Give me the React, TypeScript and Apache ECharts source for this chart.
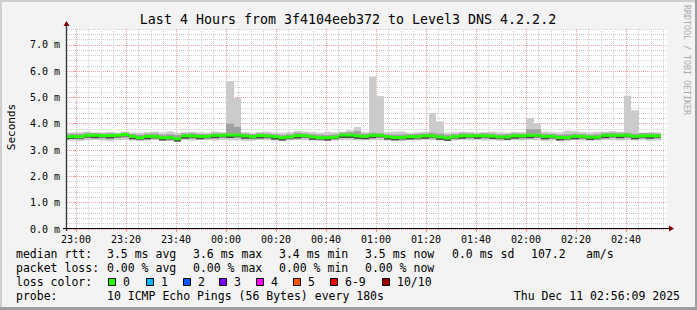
import React, { useEffect, useRef } from 'react';
import * as echarts from 'echarts';

// ---------- data ----------
const TITLE = 'Last 4 Hours from 3f4104eeb372 to Level3 DNS 4.2.2.2';
const STEP = 3; // minutes per RRD step
// step end times, minutes after 23:00
const stepEnd = [
  -3, 0, 3, 6, 9, 12, 15, 18, 21, 24,
  27, 30, 33, 36, 39, 42, 45, 48, 51, 54,
  57, 60, 63, 66, 69, 72, 75, 78, 81, 84,
  87, 90, 93, 96, 99, 102, 105, 108, 111, 114,
  117, 120, 123, 126, 129, 132, 135, 138, 141, 144,
  147, 150, 153, 156, 159, 162, 165, 168, 171, 174,
  177, 180, 183, 186, 189, 192, 195, 198, 201, 204,
  207, 210, 213, 216, 219, 222, 225, 228, 231, 234,
];
// median rtt (ms)
const rttMedian = [
  3.51, 3.51, 3.51, 3.56, 3.56, 3.55, 3.55, 3.56, 3.59, 3.52,
  3.47, 3.52, 3.52, 3.47, 3.47, 3.43, 3.54, 3.54, 3.52, 3.52,
  3.56, 3.56, 3.57, 3.57, 3.54, 3.51, 3.55, 3.54, 3.51, 3.47,
  3.50, 3.55, 3.55, 3.50, 3.47, 3.47, 3.49, 3.57, 3.57, 3.54,
  3.52, 3.56, 3.56, 3.51, 3.48, 3.48, 3.51, 3.51, 3.54, 3.54,
  3.50, 3.46, 3.51, 3.54, 3.54, 3.54, 3.54, 3.53, 3.50, 3.50,
  3.54, 3.54, 3.56, 3.56, 3.52, 3.52, 3.48, 3.48, 3.52, 3.52,
  3.49, 3.49, 3.56, 3.56, 3.56, 3.56, 3.52, 3.54, 3.54, 3.54,
];
// smoke: slowest ping (ms)
const rttMax = [
  3.66, 3.67, 3.68, 3.70, 3.66, 3.67, 3.69, 3.66, 3.70, 3.67,
  3.66, 3.68, 3.70, 3.67, 3.71, 3.66, 3.68, 3.69, 3.67, 3.66,
  3.70, 3.68, 5.62, 4.98, 3.68, 3.66, 3.69, 3.70, 3.67, 3.66,
  3.68, 3.73, 3.70, 3.68, 3.66, 3.69, 3.67, 3.70, 3.75, 3.88,
  3.68, 5.78, 5.05, 3.68, 3.70, 3.70, 3.66, 3.67, 3.69, 4.41,
  4.09, 3.66, 3.68, 3.70, 3.69, 3.67, 3.68, 3.70, 3.67, 3.66,
  3.69, 3.68, 4.22, 4.00, 3.70, 3.68, 3.67, 3.73, 3.72, 3.68,
  3.67, 3.69, 3.70, 3.72, 3.70, 5.06, 4.51, 3.66, 3.68, 3.67,
];
// smoke: fastest ping (ms)
const rttMin = [
  3.38, 3.36, 3.35, 3.37, 3.38, 3.36, 3.34, 3.37, 3.38, 3.36,
  3.35, 3.36, 3.38, 3.36, 3.35, 3.33, 3.37, 3.36, 3.38, 3.37,
  3.36, 3.38, 3.37, 3.36, 3.34, 3.35, 3.38, 3.37, 3.36, 3.35,
  3.36, 3.38, 3.37, 3.36, 3.35, 3.34, 3.36, 3.38, 3.37, 3.36,
  3.37, 3.38, 3.37, 3.36, 3.34, 3.35, 3.37, 3.36, 3.38, 3.37,
  3.36, 3.35, 3.36, 3.38, 3.37, 3.38, 3.36, 3.37, 3.35, 3.36,
  3.37, 3.36, 3.38, 3.37, 3.35, 3.36, 3.34, 3.35, 3.37, 3.36,
  3.36, 3.37, 3.38, 3.37, 3.36, 3.37, 3.36, 3.37, 3.35, 3.36,
];
// smoke: inner pings, upper (ms)
const rttHi = [
  3.60, 3.62, 3.61, 3.64, 3.66, 3.63, 3.64, 3.62, 3.66, 3.61,
  3.58, 3.62, 3.63, 3.58, 3.60, 3.57, 3.63, 3.64, 3.61, 3.60,
  3.64, 3.63, 4.00, 3.88, 3.63, 3.60, 3.64, 3.62, 3.60, 3.57,
  3.60, 3.66, 3.63, 3.60, 3.58, 3.57, 3.59, 3.66, 3.68, 3.72,
  3.62, 3.66, 3.64, 3.60, 3.58, 3.59, 3.60, 3.62, 3.63, 3.66,
  3.62, 3.57, 3.60, 3.64, 3.63, 3.62, 3.64, 3.62, 3.59, 3.60,
  3.63, 3.62, 3.79, 3.79, 3.62, 3.61, 3.58, 3.60, 3.62, 3.61,
  3.58, 3.60, 3.65, 3.66, 3.64, 3.66, 3.62, 3.65, 3.64, 3.63,
];
// smoke: inner pings, lower (ms)
const rttLo = [
  3.41, 3.42, 3.40, 3.45, 3.46, 3.44, 3.43, 3.46, 3.48, 3.42,
  3.37, 3.41, 3.42, 3.38, 3.37, 3.35, 3.44, 3.43, 3.41, 3.42,
  3.45, 3.46, 3.47, 3.46, 3.43, 3.41, 3.44, 3.43, 3.40, 3.37,
  3.40, 3.44, 3.45, 3.40, 3.37, 3.38, 3.39, 3.46, 3.47, 3.43,
  3.42, 3.45, 3.46, 3.40, 3.38, 3.37, 3.41, 3.40, 3.43, 3.44,
  3.39, 3.36, 3.41, 3.43, 3.44, 3.43, 3.44, 3.42, 3.40, 3.39,
  3.44, 3.43, 3.45, 3.46, 3.41, 3.42, 3.37, 3.38, 3.41, 3.42,
  3.39, 3.38, 3.45, 3.46, 3.45, 3.46, 3.42, 3.44, 3.43, 3.44,
];
// smoke: pings next to the median, lower (ms)
const rttNear = [
  3.40, 3.42, 3.44, 3.48, 3.45, 3.48, 3.44, 3.48, 3.52, 3.41,
  3.40, 3.41, 3.45, 3.36, 3.40, 3.32, 3.43, 3.47, 3.41, 3.45,
  3.45, 3.49, 3.46, 3.50, 3.43, 3.44, 3.44, 3.47, 3.40, 3.36,
  3.43, 3.44, 3.48, 3.39, 3.40, 3.36, 3.42, 3.46, 3.46, 3.43,
  3.41, 3.45, 3.49, 3.40, 3.37, 3.41, 3.40, 3.44, 3.43, 3.47,
  3.39, 3.35, 3.44, 3.43, 3.47, 3.43, 3.47, 3.42, 3.43, 3.39,
  3.43, 3.47, 3.45, 3.49, 3.41, 3.45, 3.37, 3.41, 3.41, 3.45,
  3.38, 3.42, 3.45, 3.49, 3.45, 3.49, 3.41, 3.47, 3.43, 3.47,
];

const xMajor = [0, 20, 40, 60, 80, 100, 120, 140, 160, 180, 200, 220];
const xMinor = [
  5, 10, 15, 25, 30, 35, 45, 50, 55, 65, 70, 75, 85, 90, 95, 105, 110, 115,
  125, 130, 135, 145, 150, 155, 165, 170, 175, 185, 190, 195, 205, 210, 215,
  225, 230, 235,
];
const yMajor = [0, 1, 2, 3, 4, 5, 6, 7];
const yMinor = [
  0.2, 0.4, 0.6, 0.8, 1.2, 1.4, 1.6, 1.8, 2.2, 2.4, 2.6, 2.8, 3.2, 3.4, 3.6,
  3.8, 4.2, 4.4, 4.6, 4.8, 5.2, 5.4, 5.6, 5.8, 6.2, 6.4, 6.6, 6.8, 7.2, 7.4, 7.6,
];

const rttStats = ['3.5 ms avg', '3.6 ms max', '3.4 ms min', '3.5 ms now', '0.0 ms sd', '107.2', 'am/s'];
const rttStatX = [107, 193, 279, 365, 452, 531, 586];
const lossStats = ['0.00 % avg', '0.00 % max', '0.00 % min', '0.00 % now'];
const lossStatX = [107, 193, 279, 365];
const lossLabels = ['0', '1', '2', '3', '4', '5', '6-9', '10/10'];
const lossColors = ['#26ff00', '#00b8ff', '#0059ff', '#7e00ff', '#ff00ff', '#ff5500', '#ff0000', '#a10000'];
const lossBoxX = [108, 146, 183, 219, 256, 293, 330, 382];
const PROBE = '10 ICMP Echo Pings (56 Bytes) every 180s';
const STAMP = 'Thu Dec 11 02:56:09 2025';

// ---------- layout ----------
const W = 697;
const H = 310;
const G = { left: 67, top: 29, width: 600, height: 200 };
const X_MIN = -3.6;
const X_MAX = 236.4;
const Y_MAX = 7.6;
const MONO = '"DejaVu Sans Mono", monospace';
const BAND = 0.057;

const fmtTime = (m: number) => {
  const t = (23 * 60 + Math.round(m)) % 1440;
  const h = Math.floor(t / 60);
  const mm = t % 60;
  return String(h).padStart(2, '0') + ':' + String(mm).padStart(2, '0');
};

const rectSeries = (name: string, lo: number[], hi: number[], color: string, z: number) => ({
  type: 'custom',
  name,
  z,
  clip: true,
  xAxisIndex: 0,
  yAxisIndex: 0,
  silent: true,
  data: stepEnd.map((t, i) => [t - STEP, t, lo[i], hi[i]]),
  encode: { x: [0, 1], y: [2, 3] },
  renderItem: (_p: any, api: any) => {
    const a = api.coord([api.value(0), api.value(3)]);
    const b = api.coord([api.value(1), api.value(2)]);
    const x0 = Math.round(a[0]);
    const x1 = Math.round(b[0]);
    return {
      type: 'rect',
      shape: { x: x0, y: a[1], width: x1 - x0, height: b[1] - a[1] },
      style: { fill: color },
    };
  },
});

const txt = (text: string, x: number, y: number, extra: any = {}) => ({
  type: 'text',
  x,
  y,
  silent: true,
  style: {
    text,
    font: '11.5px ' + MONO,
    fill: '#000',
    textVerticalAlign: 'middle',
    verticalAlign: 'middle',
    ...extra,
  },
});

export default function App() {
  const ref = useRef<HTMLDivElement>(null);

  useEffect(() => {
    if (!ref.current) return;
    const chart = echarts.init(ref.current, undefined, { renderer: 'svg' });

    const axisBottom = G.top + G.height;
    const graphic: any[] = [
      // background + shading frame
      { type: 'rect', shape: { x: 0, y: 0, width: W, height: H }, style: { fill: '#f3f3f3' }, z: -10, silent: true },
      { type: 'rect', shape: { x: 0, y: 0, width: W, height: 2 }, style: { fill: '#cfcfcf' }, z: -9, silent: true },
      { type: 'rect', shape: { x: 0, y: 0, width: 2, height: H }, style: { fill: '#cfcfcf' }, z: -9, silent: true },
      { type: 'rect', shape: { x: W - 2, y: 0, width: 2, height: H }, style: { fill: '#9e9e9e' }, z: -9, silent: true },
      { type: 'rect', shape: { x: 0, y: H - 3, width: W, height: 3 }, style: { fill: '#9e9e9e' }, z: -9, silent: true },
      // axes lines and arrows
      { type: 'line', shape: { x1: G.left - 0.5, y1: axisBottom + 2, x2: G.left - 0.5, y2: G.top - 4 }, style: { stroke: '#3a3a3a', lineWidth: 1.4 }, z: 50, silent: true },
      { type: 'line', shape: { x1: G.left - 4, y1: axisBottom - 0.5, x2: G.left + G.width + 4, y2: axisBottom - 0.5 }, style: { stroke: '#000', lineWidth: 1 }, z: 50, silent: true },
      { type: 'polygon', shape: { points: [[G.left - 3.5, G.top - 3], [G.left + 2.5, G.top - 3], [G.left - 0.5, G.top - 8]] }, style: { fill: '#7f0000' }, z: 51, silent: true },
      { type: 'polygon', shape: { points: [[G.left + G.width + 2, axisBottom - 3.5], [G.left + G.width + 2, axisBottom + 2.5], [G.left + G.width + 7, axisBottom - 0.5]] }, style: { fill: '#7f0000' }, z: 51, silent: true },
      // title
      txt(TITLE, 348, 19, { font: '13.3px ' + MONO, textAlign: 'center', align: 'center' }),
      // y axis name
      {
        type: 'text', x: 11, y: 127, rotation: Math.PI / 2, silent: true,
        style: { text: 'Seconds', font: '11px ' + MONO, fill: '#000', textAlign: 'center', align: 'center', textVerticalAlign: 'middle', verticalAlign: 'middle' },
      },
      // watermark
      {
        type: 'text', x: 687, y: 5, rotation: -Math.PI / 2, silent: true,
        style: { text: 'RRDTOOL / TOBI OETIKER', font: '8.3px ' + MONO, fill: '#aaaaaa', textAlign: 'left', align: 'left', textVerticalAlign: 'middle', verticalAlign: 'middle' },
      },
      // legend rows
      txt('median rtt:', 16, 254),
      ...rttStats.map((s, i) => txt(s, rttStatX[i], 254)),
      txt('packet loss:', 16, 268),
      ...lossStats.map((s, i) => txt(s, lossStatX[i], 268)),
      txt('loss color:', 16, 282),
      ...lossLabels.flatMap((s, i) => [
        { type: 'rect', silent: true, shape: { x: lossBoxX[i] + 0.5, y: 278.5, width: 7, height: 7 }, style: { fill: lossColors[i], stroke: '#000', lineWidth: 1 } },
        txt(s, lossBoxX[i] + 15, 282),
      ]),
      txt('probe:', 16, 296),
      txt(PROBE, 107, 296),
      txt(STAMP, 680, 296, { textAlign: 'right', align: 'right' }),
    ];

    const labelStyle = { fontFamily: MONO, fontSize: 10, color: '#000' };

    chart.setOption({
      animation: false,
      backgroundColor: '#f3f3f3',
      grid: {
        left: G.left, top: G.top, width: G.width, height: G.height,
        show: true, backgroundColor: '#ffffff', borderWidth: 0,
        containLabel: false, outerBoundsMode: 'none',
      },
      xAxis: [
        {
          type: 'value', min: X_MIN, max: X_MAX, position: 'bottom',
          axisLine: { show: false },
          axisTick: { show: true, customValues: xMajor, length: 3, lineStyle: { color: '#e89090' } },
          axisLabel: { customValues: xMajor, formatter: fmtTime, margin: 5, ...labelStyle },
          splitLine: { show: true, lineStyle: { color: '#eea0a0', type: [1, 1], width: 1 } },
        },
        {
          type: 'value', min: X_MIN, max: X_MAX, position: 'bottom',
          axisLine: { show: false },
          axisTick: { show: true, customValues: xMinor, length: 2, lineStyle: { color: '#cccccc' } },
          axisLabel: { show: false },
          splitLine: { show: true, lineStyle: { color: '#d0d0d0', type: [1, 1], width: 1 } },
        },
      ],
      yAxis: [
        {
          type: 'value', min: 0, max: Y_MAX,
          axisLine: { show: false },
          axisTick: { show: true, customValues: yMajor, length: 3, lineStyle: { color: '#e89090' } },
          axisLabel: { customValues: yMajor, formatter: (v: number) => v.toFixed(1) + ' m', margin: 7, ...labelStyle },
          splitLine: { show: true, lineStyle: { color: '#eea0a0', type: [1, 1], width: 1 } },
        },
        {
          type: 'value', min: 0, max: Y_MAX,
          axisLine: { show: false },
          axisTick: { show: true, customValues: yMinor, length: 2, lineStyle: { color: '#cccccc' } },
          axisLabel: { show: false },
          splitLine: { show: true, lineStyle: { color: '#d0d0d0', type: [1, 1], width: 1 } },
        },
      ],
      series: [
        rectSeries('smoke outer', rttMin, rttMax, '#cbcbcb', 2),
        rectSeries('smoke inner', rttLo, rttHi, '#a0a0a0', 3),
        rectSeries('smoke core', rttNear, rttMedian, '#4a4a4a', 4),
        rectSeries('median', rttMedian.map((m) => m - BAND), rttMedian.map((m) => m + BAND), lossColors[0], 5),
      ],
      graphic,
    });

    return () => chart.dispose();
  }, []);

  return <div ref={ref} style={{ position: 'absolute', left: 0, top: 0, width: W, height: H }} />;
}
